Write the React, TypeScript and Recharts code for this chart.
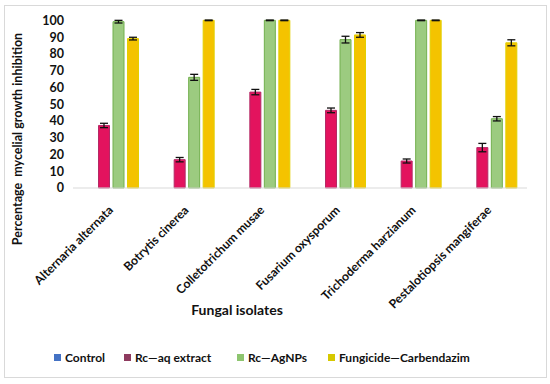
import { BarChart, Bar, XAxis, YAxis, ErrorBar, Legend } from 'recharts'

const isolates = [
  'Alternaria alternata',
  'Botrytis cinerea',
  'Colletotrichum musae',
  'Fusarium oxysporum',
  'Trichoderma harzianum',
  'Pestalotiopsis mangiferae',
]
const control = [0, 0, 0, 0, 0, 0]
const aqExtract = [37.3, 16.9, 57.2, 46.3, 16.1, 24.1]
const aqErr = [1.3, 1.3, 1.6, 1.4, 1.2, 2.5]
const agNps = [99.2, 66, 100, 88.5, 100, 41.3]
const agErr = [0.8, 1.8, 0.2, 2, 0.2, 1.3]
const fungicide = [89.1, 100, 100, 91.3, 100, 86.6]
const fungErr = [0.8, 0.2, 0.2, 1.4, 0.2, 1.8]
const yTicks = [0, 10, 20, 30, 40, 50, 60, 70, 80, 90, 100]
const seriesNames = ['Control', 'Rc\u2014aq extract', 'Rc\u2014AgNPs', 'Fungicide\u2014Carbendazim']

// legend swatch colours and x positions (excel legend is not evenly spaced)
const LEGEND_COLORS = ['#4472C4', '#8E3B5F', '#8DC56F', '#D6C800']
const LEGEND_X = [54, 124, 237, 328]

const rows = isolates.map((name, i) => ({
  name,
  control: control[i],
  aq: aqExtract[i],
  aqErr: aqErr[i],
  ag: agNps[i],
  agErr: agErr[i],
  fung: fungicide[i],
  fungErr: fungErr[i],
}))

const FONT = 'Lato, "DejaVu Sans", sans-serif'

// eslint-disable-next-line @typescript-eslint/no-explicit-any
function IsolateTick({ x, y, payload }: any) {
  return (
    <g transform={`translate(${x + 3},${y + 15})`}>
      <text
        textAnchor="end"
        transform="rotate(-45)"
        fontSize={12.2}
        fontWeight={700}
        fontFamily={FONT}
        fill="#111"
      >
        {payload.value}
      </text>
    </g>
  )
}

function YTitle() {
  return (
    <text
      x={22}
      y={139}
      transform="rotate(-90 22 139)"
      textAnchor="middle"
      fontSize={12.5}
      fontWeight={700}
      fontFamily={FONT}
      fill="#111"
      style={{ whiteSpace: 'pre' }}
    >
      {'Percentage  mycelial growth inhibition'}
    </text>
  )
}

function XTitle() {
  return (
    <text x={237} y={315} textAnchor="middle" fontSize={14} fontWeight={700} fontFamily={FONT} fill="#111">
      Fungal isolates
    </text>
  )
}

function LegendBox() {
  return (
    <div style={{ position: 'relative', height: 20, fontFamily: FONT, fontWeight: 700, fontSize: 12, color: '#111' }}>
      {seriesNames.map((label, i) => (
        <div key={label} style={{ position: 'absolute', left: LEGEND_X[i], top: 0, height: 20, display: 'flex', alignItems: 'center', whiteSpace: 'nowrap' }}>
          <span style={{ width: 7, height: 7, background: LEGEND_COLORS[i], marginRight: 4 }} />
          <span>{label}</span>
        </div>
      ))}
    </div>
  )
}

export default function App() {
  return (
    <div style={{ position: 'absolute', left: 0, top: 0, width: 550, height: 384, background: '#fff' }}>
      <div style={{ position: 'absolute', left: 4, top: 5, width: 541, height: 371, border: '1px solid #D9D9D9' }} />
      <BarChart
        width={550}
        height={384}
        data={rows}
        margin={{ top: 20, right: 23, left: 0, bottom: 17 }}
        barSize={11}
        barGap={3.5}
      >
        <XAxis
          dataKey="name"
          interval={0}
          height={159}
          tick={<IsolateTick />}
          tickLine={false}
          axisLine={{ stroke: '#D9D9D9' }}
          label={<XTitle />}
        />
        <YAxis
          domain={[0, 100]}
          ticks={yTicks}
          interval={0}
          width={73}
          axisLine={false}
          tickLine={false}
          tickMargin={3}
          tick={{ fontSize: 12.5, fontWeight: 700, fill: '#111', fontFamily: FONT }}
          label={<YTitle />}
        />
        <Legend verticalAlign="bottom" wrapperStyle={{ left: 0, width: 550 }} content={<LegendBox />} />
        <Bar dataKey="control" name={seriesNames[0]} fill="#4472C4" isAnimationActive={false} />
        <Bar dataKey="aq" name={seriesNames[1]} fill="#E3135E" stroke="#B42A66" strokeWidth={1} isAnimationActive={false}>
          <ErrorBar dataKey="aqErr" width={4} stroke="#111" strokeWidth={1.3} />
        </Bar>
        <Bar dataKey="ag" name={seriesNames[2]} fill="#9CCB80" stroke="#72B04E" strokeWidth={1} isAnimationActive={false}>
          <ErrorBar dataKey="agErr" width={4} stroke="#111" strokeWidth={1.3} />
        </Bar>
        <Bar dataKey="fung" name={seriesNames[3]} fill="#F4C300" stroke="#E2CF00" strokeWidth={1} isAnimationActive={false}>
          <ErrorBar dataKey="fungErr" width={4} stroke="#111" strokeWidth={1.3} />
        </Bar>
      </BarChart>
    </div>
  )
}
